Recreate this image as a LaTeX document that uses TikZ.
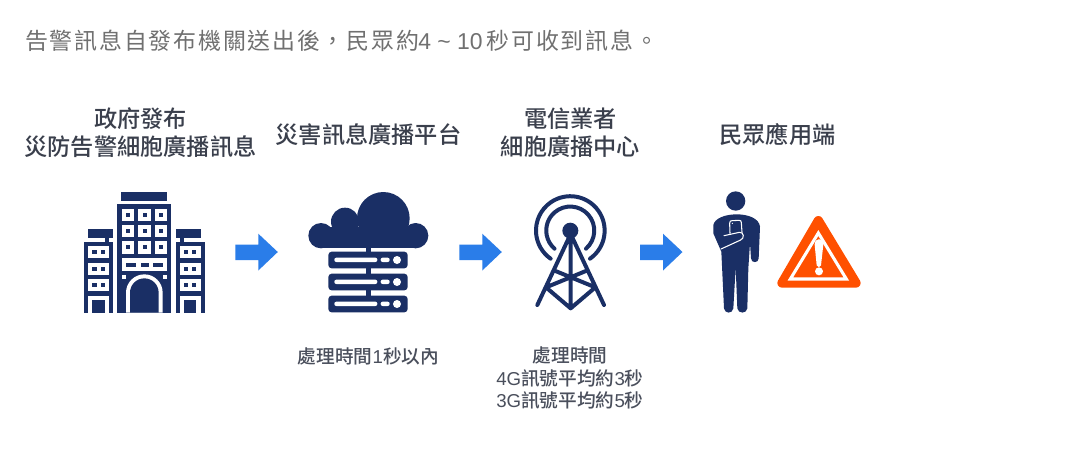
\documentclass[tikz,border=0pt]{standalone}
\usepackage{fontspec}
\setmainfont{Liberation Sans}
\newfontfamily\cjktitle[LetterSpace=7.8]{Noto Sans CJK TC}
\newfontfamily\cjkbold{Noto Sans CJK TC Medium}
\newfontfamily\cjkmed{Noto Sans CJK TC Medium}
\newfontfamily\lat{Liberation Sans}
\definecolor{navy}{HTML}{1A2F65}
\definecolor{arrowblue}{HTML}{2A7DE9}
\definecolor{alertorange}{HTML}{FF5000}
\definecolor{titlegray}{HTML}{707070}
\definecolor{headgray}{HTML}{3A3F4C}
\definecolor{notegray}{HTML}{4A4F5C}
\newcommand{\blockarrow}[1]{\fill[arrowblue,shift={(#1,0)}] (0,244.5) -- (23,244.5) -- (23,233.7) -- (42.5,252) -- (23,270.5) -- (23,260) -- (0,260) -- cycle;}
\tikzset{
  headlabel/.style={font=\cjkbold\fontsize{17.4}{21}\selectfont,text=headgray,align=center,inner sep=0pt},
  notelabel/.style={font=\cjkmed\fontsize{14}{16.8}\selectfont,text=notegray,align=center,inner sep=0pt},
  iconzoom/.style={x=0.25pt,y=-0.25pt},
}
\begin{document}
\begin{tikzpicture}[x=0.75pt,y=-0.75pt]
\useasboundingbox (0,0) rectangle (1071,462);
\fill[white] (0,0) rectangle (1071,462);
\node[anchor=west,inner sep=0pt,text=titlegray,font=\cjktitle\fontsize{17.2}{20}\selectfont] (title) at (25,41) {告警訊息自發布機關送出後，民眾約{\lat\kern-0.5pt 4 \textasciitilde\ 10\kern3pt}秒可收到訊息。};
\node[headlabel] (h1) at (140.5,133) {政府發布\\災防告警細胞廣播訊息};
\node[headlabel] (h2) at (368.5,135) {災害訊息廣播平台};
\node[headlabel] (h3) at (570.5,133) {電信業者\\細胞廣播中心};
\node[headlabel] (h4) at (777.5,135) {民眾應用端};
\node[notelabel] (n2) at (368.5,356) {處理時間{\lat 1}秒以內};
\node[notelabel] (n3) at (570,378) {處理時間\\{\lat 4G}訊號平均約{\lat 3}秒\\{\lat 3G}訊號平均約{\lat 5}秒};
% building
\begin{scope}[shift={(70,180)},iconzoom]
\fill[navy] (154,36) rectangle (292,62);
\fill[navy] (142,72) rectangle (304,398);
\foreach \xa in {155,205,254}{\foreach \ya in {86,135,184}{
  \fill[white] (\xa,\ya) rectangle ++(38,37);
  \fill[navy] (\xa+13,\ya+12) rectangle ++(12,12);}}
\fill[white] (155,234) rectangle (292,272);
\fill[navy] (167,248) rectangle (198,260);
\fill[navy] (212,248) rectangle (236,260);
\fill[navy] (248,248) rectangle (280,260);
\fill[white] (155,285) rectangle (167,297);
\fill[white] (279,285) rectangle (291,297);
\fill[white] (168,398) -- (168,338) arc[start angle=180,end angle=360,radius=55] -- (278,398) -- cycle;
\fill[navy] (180,398) -- (180,338) arc[start angle=180,end angle=360,radius=43] -- (266,398) -- cycle;
\foreach \sx/\w in {43/0,317/1}{
  \fill[navy] (\sx,185) rectangle ++(87,213);
  \ifnum\w=0
    \fill[navy] (55,148) rectangle (130,173);
    \fill[navy] (105,173) rectangle (118,185);
  \else
    \fill[navy] (317,148) rectangle (392,173);
    \fill[navy] (329,173) rectangle (342,185);
  \fi
  \foreach \ya in {198,248,297}{
    \fill[white] (\sx+12,\ya) rectangle ++(63,37);
    \fill[navy] (\sx+24,\ya+12) rectangle ++(13,13);
    \fill[navy] (\sx+49,\ya+12) rectangle ++(13,13);}
  \fill[white] (\sx+12,347) rectangle ++(63,51);
  \fill[navy] (\sx+24,360) rectangle ++(38,38);
}
\end{scope}
\blockarrow{235.3}
% cloud and servers
\begin{scope}[shift={(295,180)},iconzoom]
\fill[navy] (265,115) circle[radius=79];
\fill[navy] (150,125) circle[radius=42];
\fill[navy] (78,167) circle[radius=38];
\fill[navy] (362,167) circle[radius=38];
\fill[navy] (78,140) rectangle (362,205);
\fill[navy] (212,205) rectangle (227,350);
\foreach \ya in {215,281,347}{
  \fill[navy,rounded corners=2.5pt] (100,\ya) rectangle ++(238,50);
  \fill[white,rounded corners=1.5pt] (118,\ya+18) rectangle ++(129,13);
  \fill[white,rounded corners=1.5pt] (257,\ya+18) rectangle ++(27,13);
  \fill[white] (306,\ya+25) circle[radius=12];
}
\end{scope}
\blockarrow{459.3}
% tower
\begin{scope}[shift={(520,180)},iconzoom]
\draw[navy,line width=3pt,line cap=round] (210,236) arc[start angle=55,end angle=-235,radius=103];
\draw[navy,line width=3pt,line cap=round] (198,206) arc[start angle=49,end angle=-229,radius=72];
\fill[navy] (151,152) circle[radius=24];
\end{scope}
\begin{scope}[shift={(530,230)},iconzoom]
\draw[navy,line width=3pt,line cap=round,line join=round]
  (122,12) -- (22,225) (122,12) -- (222,225) (122,12) -- (122,235)
  (48,172) -- (122,235) -- (196,172)
  (48,172) -- (170,122) (196,172) -- (74,122);
\end{scope}
\blockarrow{640}
% person
\begin{scope}[shift={(710,190)},iconzoom]
\fill[navy] (77,33) circle[radius=29];
\fill[navy] (10,130) -- (10,105) .. controls (14,85) and (45,73) .. (80,73) .. controls (115,73) and (147,85) .. (150,110) -- (146,205) .. controls (146,220) and (123,220) .. (123,205) -- (120,160) -- (115,235) -- (112,355) .. controls (110,372) and (84,372) .. (82,355) -- (77,232) -- (70,355) .. controls (68,372) and (44,372) .. (42,355) -- (34,185) -- cycle;
\draw[white,line width=0.8pt,line join=round,line cap=round] (60,130) -- (59,100) .. controls (59,93) and (62,92) .. (66,92) -- (87,91) .. controls (92,91) and (94,93) .. (94,98) -- (96,127);
\draw[white,line width=0.8pt,line join=round,line cap=round] (42,137) -- (88,127) .. controls (102,125) and (104,145) .. (92,150) -- (33,177);
\fill[white] (67,100) circle[radius=2];
\end{scope}
% warning triangle
\begin{scope}[shift={(700,180)},iconzoom]
\filldraw[alertorange,line width=7pt,line join=round] (355,122) -- (246,309) -- (468,309) -- cycle;
\draw[white,line width=2.3pt,line join=miter] (355,159) -- (271,297) -- (439,297) -- cycle;
\fill[white] (344,194) .. controls (344,172) and (370,172) .. (370,194) -- (363,256) .. controls (362,263) and (351,263) .. (350,256) -- cycle;
\fill[white] (357,274) circle[radius=12];
\end{scope}
\end{tikzpicture}
\end{document}
